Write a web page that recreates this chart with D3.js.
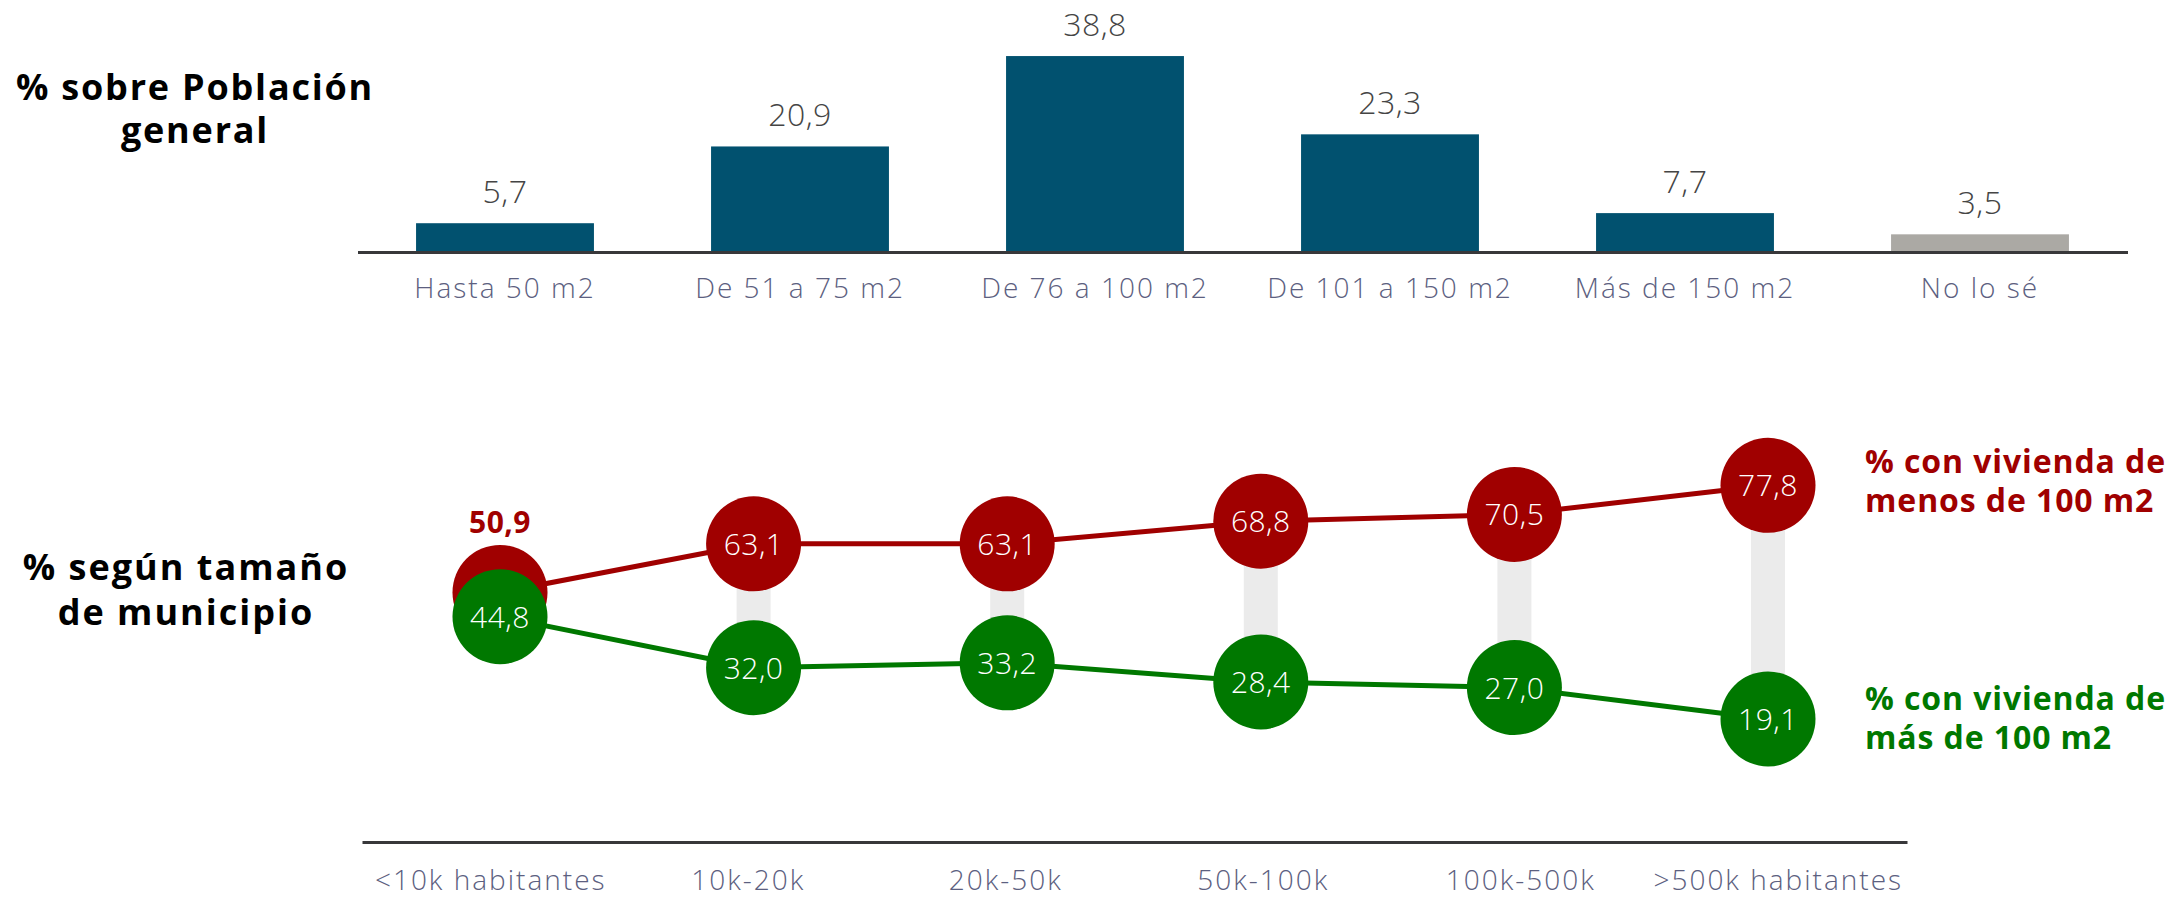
<!DOCTYPE html>
<html>
<head>
<meta charset="utf-8">
<script src="https://cdn.jsdelivr.net/npm/d3@7"></script>
<style>
  html, body { margin: 0; padding: 0; background: #ffffff; }
  svg { display: block; }
  text { font-family: "Open Sans", "Noto Sans", sans-serif; }
</style>
</head>
<body>
<svg id="chart" width="2166" height="897"></svg>
<script>
// ---------- DATA ----------
const sizeCategories = ["Hasta 50 m2", "De 51 a 75 m2", "De 76 a 100 m2", "De 101 a 150 m2", "Más de 150 m2", "No lo sé"];
const sizeValues = [5.7, 20.9, 38.8, 23.3, 7.7, 3.5];
const sizeIsUnknown = [false, false, false, false, false, true];

const townCategories = ["<10k habitantes", "10k-20k", "20k-50k", "50k-100k", "100k-500k", ">500k habitantes"];
const lessThan100 = [50.9, 63.1, 63.1, 68.8, 70.5, 77.8];
const moreThan100 = [44.8, 32.0, 33.2, 28.4, 27.0, 19.1];

const topTitle = ["% sobre Población", "general"];
const bottomTitle = ["% según tamaño", "de municipio"];
const legendLess = ["% con vivienda de", "menos de 100 m2"];
const legendMore = ["% con vivienda de", "más de 100 m2"];

const fmt = v => v.toFixed(1).replace(".", ",");

// ---------- STYLE ----------
const C = {
  bar: "#01516f",
  barGrey: "#aba9a4",
  valueText: "#454545",
  catText: "#5c6080",
  axis: "#38383a",
  red: "#a00000",
  green: "#007800",
  connector: "#ebebeb"
};

const svg = d3.select("#chart");

// ---------- TOP BAR CHART ----------
const xTop = d3.scaleBand()
  .domain(sizeCategories)
  .range([357.5, 2127.5])
  .paddingInner(0.397)
  .paddingOuter(0.1985);
const yTop = d3.scaleLinear().domain([0, 40]).range([252, 50]);

const topG = svg.append("g");
topG.selectAll("rect.bar")
  .data(sizeValues)
  .join("rect")
  .attr("class", "bar")
  .attr("x", (d, i) => xTop(sizeCategories[i]))
  .attr("width", xTop.bandwidth())
  .attr("y", d => yTop(d))
  .attr("height", d => yTop(0) - yTop(d))
  .attr("fill", (d, i) => sizeIsUnknown[i] ? C.barGrey : C.bar);

topG.selectAll("text.val")
  .data(sizeValues)
  .join("text")
  .attr("class", "val")
  .attr("x", (d, i) => xTop(sizeCategories[i]) + xTop.bandwidth() / 2)
  .attr("y", d => yTop(d) - 20)
  .attr("text-anchor", "middle")
  .attr("font-size", 32)
  .attr("font-weight", 300)
  .attr("letter-spacing", 0.5)
  .attr("fill", C.valueText)
  .text(d => fmt(d));

const xAxisTop = d3.axisBottom(xTop).tickSize(0).tickPadding(0);
const gAxTop = topG.append("g")
  .attr("transform", `translate(0,${yTop(0)})`)
  .call(xAxisTop);
gAxTop.select(".domain").attr("stroke", C.axis).attr("stroke-width", 3);
gAxTop.selectAll(".tick text")
  .attr("dy", null)
  .attr("y", 46)
  .attr("font-family", "'Open Sans', sans-serif")
  .attr("font-size", 28)
  .attr("font-weight", 300)
  .attr("letter-spacing", 2)
  .attr("fill", C.catText);

// top title
const tt = svg.append("text")
  .attr("text-anchor", "middle")
  .attr("font-size", 36)
  .attr("font-weight", 700)
  .attr("letter-spacing", 1.8)
  .attr("fill", "#000");
tt.selectAll("tspan").data(topTitle).join("tspan")
  .attr("x", 195)
  .attr("y", (d, i) => 100 + i * 43)
  .text(d => d);

// ---------- BOTTOM DUMBBELL / LINE CHART ----------
const xBand = d3.scaleBand().domain(townCategories).range([362, 1907]);
const xPt = d3.scalePoint().domain(townCategories).range([500, 1768]);
const yLine = d3.scaleLinear().domain([0, 100]).range([795, 397]);
const R = 47.5;

const botG = svg.append("g");

// axis
const xAxisBot = d3.axisBottom(xBand).tickSize(0).tickPadding(0);
const gAxBot = botG.append("g")
  .attr("transform", "translate(0,842)")
  .call(xAxisBot);
gAxBot.select(".domain").attr("stroke", C.axis).attr("stroke-width", 3);
gAxBot.selectAll(".tick text")
  .attr("dy", null)
  .attr("y", 48)
  .attr("font-family", "'Open Sans', sans-serif")
  .attr("font-size", 28)
  .attr("font-weight", 300)
  .attr("letter-spacing", 2)
  .attr("fill", C.catText);

const pts = townCategories.map((c, i) => ({
  cat: c,
  less: lessThan100[i],
  more: moreThan100[i],
  x: xPt(c),
  yL: yLine(lessThan100[i]),
  yM: yLine(moreThan100[i])
}));

// grey connectors
botG.selectAll("rect.conn")
  .data(pts)
  .join("rect")
  .attr("class", "conn")
  .attr("x", d => d.x - 17)
  .attr("width", 34)
  .attr("y", d => d.yL)
  .attr("height", d => Math.max(0, d.yM - d.yL))
  .attr("fill", C.connector);

// lines
const lineLess = d3.line().x(d => d.x).y(d => d.yL);
const lineMore = d3.line().x(d => d.x).y(d => d.yM);
botG.append("path").datum(pts)
  .attr("d", lineLess).attr("fill", "none")
  .attr("stroke", C.red).attr("stroke-width", 5);
botG.append("path").datum(pts)
  .attr("d", lineMore).attr("fill", "none")
  .attr("stroke", C.green).attr("stroke-width", 5);

// circles
botG.selectAll("circle.less")
  .data(pts).join("circle")
  .attr("class", "less")
  .attr("cx", d => d.x).attr("cy", d => d.yL).attr("r", R)
  .attr("fill", C.red);
botG.selectAll("circle.more")
  .data(pts).join("circle")
  .attr("class", "more")
  .attr("cx", d => d.x).attr("cy", d => d.yM).attr("r", R)
  .attr("fill", C.green);

// labels
const overlaps = d => (d.yM - d.yL) < 2 * R;
botG.selectAll("text.lessLbl")
  .data(pts).join("text")
  .attr("class", "lessLbl")
  .attr("x", d => d.x)
  .attr("y", d => overlaps(d) ? d.yL - R - 12 : d.yL + 11)
  .attr("text-anchor", "middle")
  .attr("font-size", 30)
  .attr("font-weight", d => overlaps(d) ? 700 : 300)
  .attr("letter-spacing", 0.5)
  .attr("fill", d => overlaps(d) ? C.red : "#ffffff")
  .text(d => fmt(d.less));
botG.selectAll("text.moreLbl")
  .data(pts).join("text")
  .attr("class", "moreLbl")
  .attr("x", d => d.x)
  .attr("y", d => d.yM + 11)
  .attr("text-anchor", "middle")
  .attr("font-size", 30)
  .attr("font-weight", 300)
  .attr("letter-spacing", 0.5)
  .attr("fill", "#ffffff")
  .text(d => fmt(d.more));

// bottom title
const bt = svg.append("text")
  .attr("text-anchor", "middle")
  .attr("font-size", 36)
  .attr("font-weight", 700)
  .attr("letter-spacing", 2)
  .attr("fill", "#000");
bt.selectAll("tspan").data(bottomTitle).join("tspan")
  .attr("x", 186)
  .attr("y", (d, i) => 580 + i * 45)
  .text(d => d);

// legends
function legend(lines, color, y0) {
  const t = svg.append("text")
    .attr("font-size", 32)
    .attr("font-weight", 700)
    .attr("letter-spacing", 0.9)
    .attr("fill", color);
  t.selectAll("tspan").data(lines).join("tspan")
    .attr("x", 1865)
    .attr("y", (d, i) => y0 + i * 38.5)
    .text(d => d);
}
legend(legendLess, C.red, 473);
legend(legendMore, C.green, 710);
</script>
</body>
</html>
